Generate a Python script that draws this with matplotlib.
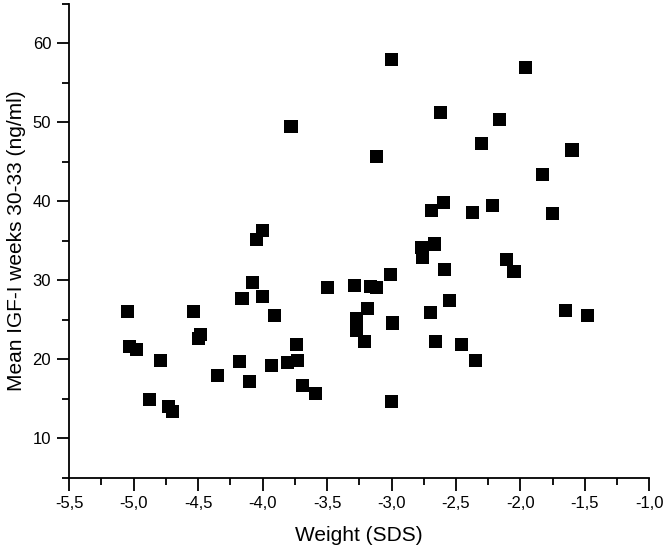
import matplotlib
matplotlib.use("Agg")
import matplotlib.pyplot as plt
from matplotlib.ticker import MultipleLocator, FuncFormatter

plt.rcParams['font.family'] = ['Liberation Sans', 'DejaVu Sans']

# weight SDS vs mean IGF-I
weight_sds = [
    -5.05, -4.54, -4.08, -4.16, -4.00, -3.91, -5.03, -4.98, -4.79, -4.48,
    -4.50, -4.18, -4.35, -4.10, -3.93, -3.81, -4.88, -4.73, -4.70,
    -3.50, -3.29, -3.16, -3.12, -3.19, -3.27, -3.27, -3.21, -2.99, -2.70,
    -2.55, -2.66, -2.46, -2.35, -3.74, -3.73, -3.69, -3.59, -3.00,
    -1.65, -1.48,
    -3.78, -3.12, -4.00, -4.05,
    -3.00, -1.96, -2.62, -2.16, -2.30, -1.60, -1.83, -2.60, -2.69, -2.37,
    -2.22, -1.75, -2.77, -2.67, -2.76, -2.59, -2.11, -2.05, -3.01,
]
igf_mean = [
    26.1, 26.1, 29.7, 27.7, 27.9, 25.5, 21.6, 21.3, 19.9, 23.2,
    22.7, 19.7, 17.9, 17.2, 19.2, 19.6, 14.9, 14.0, 13.4,
    29.1, 29.4, 29.2, 29.1, 26.4, 25.2, 23.7, 22.2, 24.6, 25.9,
    27.4, 22.2, 21.9, 19.9, 21.9, 19.9, 16.7, 15.7, 14.7,
    26.2, 25.5,
    49.5, 45.7, 36.3, 35.2,
    57.9, 56.9, 51.2, 50.4, 47.3, 46.5, 43.4, 39.9, 38.9, 38.6,
    39.5, 38.5, 34.1, 34.6, 32.9, 31.4, 32.6, 31.1, 30.7,
]

fig = plt.figure(figsize=(6.66, 5.48), dpi=100)
ax = fig.add_axes([0.104, 0.128, 0.871, 0.865])

ax.scatter(weight_sds, igf_mean, marker='s', s=88, color='black',
           edgecolors='none', zorder=3)

ax.set_xlim(-5.5, -1.0)
ax.set_ylim(5, 65)

ax.xaxis.set_major_locator(MultipleLocator(0.5))
ax.xaxis.set_minor_locator(MultipleLocator(0.25))
ax.yaxis.set_major_locator(MultipleLocator(10))
ax.yaxis.set_minor_locator(MultipleLocator(5))
ax.xaxis.set_major_formatter(FuncFormatter(lambda v, p: ('%.1f' % v).replace('.', ',')))
ax.set_yticks([10, 20, 30, 40, 50, 60])

for side in ['top', 'right']:
    ax.spines[side].set_visible(False)
for side in ['left', 'bottom']:
    ax.spines[side].set_linewidth(1.3)

ax.tick_params(which='major', direction='out', length=9, width=1.3,
               labelsize=12, pad=4)
ax.tick_params(which='minor', direction='out', length=5, width=1.3)

ax.set_xlabel('Weight (SDS)', fontsize=15, labelpad=11)
ax.set_ylabel('Mean IGF-I weeks 30-33 (ng/ml)', fontsize=15, labelpad=5)

fig.savefig('out.png', dpi=100)
